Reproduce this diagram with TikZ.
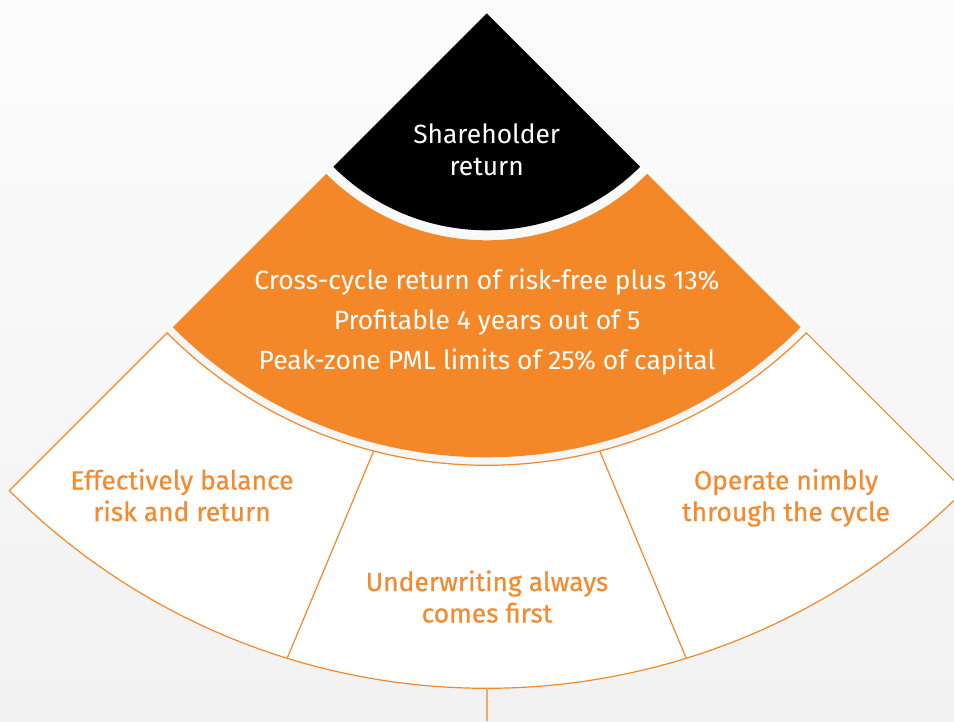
\documentclass[tikz,border=0pt]{standalone}
\usepackage{fontspec}
\setmainfont{Fira Sans}
\newfontfamily\pillarfont{Fira Sans}[FakeBold=0.5]
\definecolor{bgtop}{HTML}{FCFCFC}
\definecolor{bgbot}{HTML}{F2F2F2}
\definecolor{fanorange}{HTML}{F48828}
\definecolor{textorange}{HTML}{F38A2E}
\definecolor{stemorange}{HTML}{F7A867}
\begin{document}
\begin{tikzpicture}[x=1pt,y=-1pt,
  lbl/.style={anchor=base,inner sep=0pt,font=\fontsize{26.4}{30}\selectfont},
  lightlbl/.style={lbl,text=white},
  pillarlbl/.style={lbl,text=textorange,font=\pillarfont\fontsize{26.4}{30}\selectfont},
  outline/.style={draw=fanorange,line width=1.2pt}]
\useasboundingbox (0,0) rectangle (954,721);
\shade[top color=bgtop,bottom color=bgbot] (0,0) rectangle (954,721);
\begin{scope}
\clip (0,0) rectangle (954,721);
\coordinate (apex) at (486.7,13.3);
% apex triangle
\fill[black] (apex) -- ([shift={(apex)}]45:217) arc[start angle=45,end angle=135,radius=217] -- cycle;
% middle band
\fill[fanorange] ([shift={(apex)}]45:227) arc[start angle=45,end angle=135,radius=227]
  -- ([shift={(apex)}]135:444) arc[start angle=135,end angle=45,radius=444] -- cycle;
% outer band
\filldraw[fill=white,outline] ([shift={(apex)}]45:452) arc[start angle=45,end angle=135,radius=452]
  -- ([shift={(apex)}]135:675) arc[start angle=135,end angle=45,radius=675] -- cycle;
\coordinate (ltop) at ([shift={(apex)}]104.48:452);
\coordinate (lbot) at ([shift={(apex)}]107.19:675);
\coordinate (rtop) at ([shift={(apex)}]75.52:452);
\coordinate (rbot) at ([shift={(apex)}]72.81:675);
\draw[outline] (ltop) -- (lbot);
\draw[outline] (rtop) -- (rbot);
% stem below the fan
\coordinate (stemtop) at ([shift={(apex)}]90:675);
\coordinate (stemend) at (486.7,721);
\draw[stemorange,line width=2pt] (stemtop) -- (stemend);
\end{scope}
% labels
\node[lightlbl] (sh1) at (486.7,143.3) {Shareholder};
\node[lightlbl] (sh2) at (486.7,175) {return};
\node[lightlbl] (mid1) at (487,289.5) {Cross-cycle return of risk-free plus 13\%};
\node[lightlbl] (mid2) at (487,329.5) {Profitable 4 years out of 5};
\node[lightlbl] (mid3) at (487,369.5) {Peak-zone PML limits of 25\% of capital};
\node[pillarlbl] (left1) at (182,489.5) {Effectively balance};
\node[pillarlbl] (left2) at (182,521) {risk and return};
\node[pillarlbl] (cen1) at (487,591) {Underwriting always};
\node[pillarlbl] (cen2) at (487,622.5) {comes first};
\node[pillarlbl] (right1) at (786,489.5) {Operate nimbly};
\node[pillarlbl] (right2) at (786,521) {through the cycle};
\end{tikzpicture}
\end{document}
